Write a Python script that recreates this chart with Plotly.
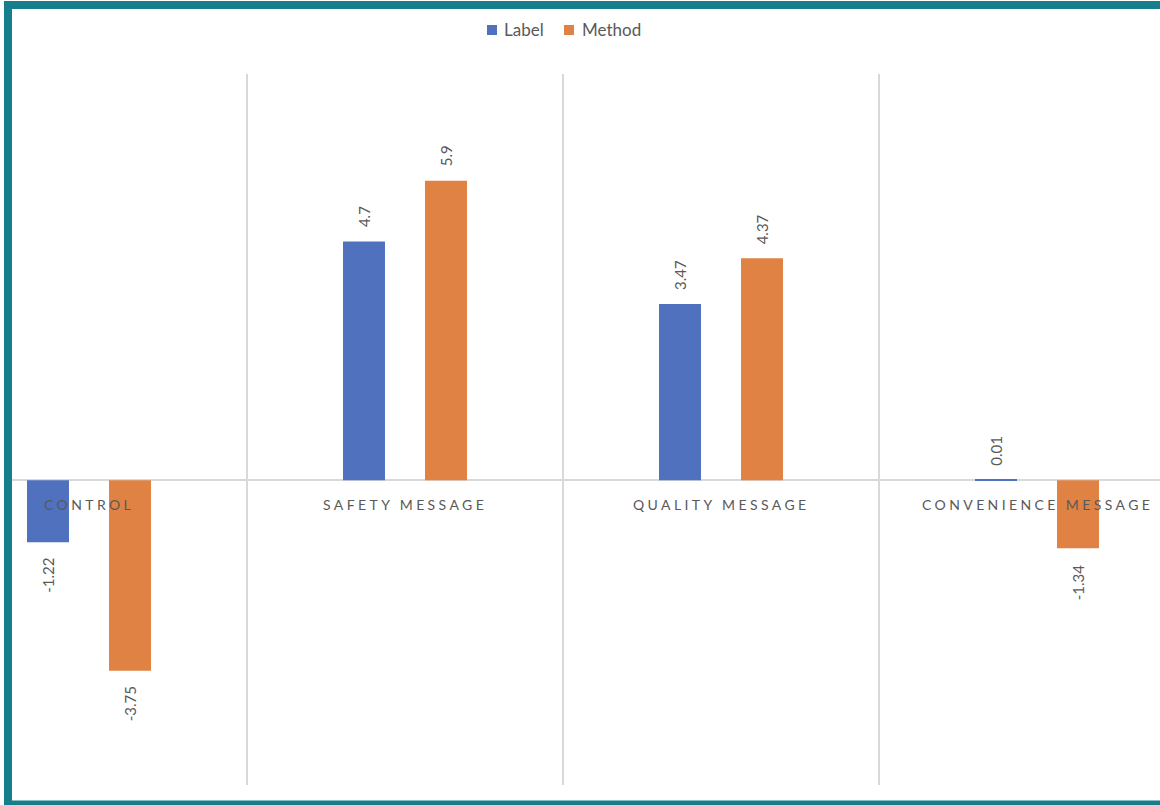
import plotly.graph_objects as go

categories = ["CONTROL", "SAFETY MESSAGE", "QUALITY MESSAGE", "CONVENIENCE MESSAGE"]
label_values = [-1.22, 4.7, 3.47, 0.01]
method_values = [-3.75, 5.9, 4.37, -1.34]
series_names = ["Label", "Method"]
series_colors = ["#4F71BE", "#DF8244"]

W, H = 1160, 805
L, R, T, B = 12, 0, 74, 20
pw = W - L - R
ph = H - T - B

def px(x):
    return (x - L) / pw

def py(y):
    return (H - B - y) / ph

FONT = "Lato, 'Open Sans', sans-serif"
GREY = "#595959"

fig = go.Figure()
for name, vals, col, shift in [(series_names[0], label_values, series_colors[0], -41),
                               (series_names[1], method_values, series_colors[1], 41)]:
    fig.add_trace(go.Bar(
        x=categories, y=vals, name=name,
        marker=dict(color=col, line=dict(width=0)),
        showlegend=False,
    ))
    # data labels
    for c, v in zip(categories, vals):
        fig.add_annotation(
            x=c, y=v, xref="x", yref="y", text=f"{v:g}",
            showarrow=False, textangle=-90, xshift=shift,
            yanchor="bottom" if v >= 0 else "top",
            yshift=12 if v >= 0 else -14,
            font=dict(size=15, color=GREY, family=FONT),
        )

# category labels next to the zero line
for c in categories:
    fig.add_annotation(
        x=c, y=0, xref="x", yref="y",
        text=f'<span style="letter-spacing:3.4px">{c}</span>',
        showarrow=False, yanchor="top", yshift=-14,
        font=dict(size=14, color=GREY, family=FONT),
    )

# custom legend
leg_items = [(487, 502), (564, 580)]
for (sx, tx), name, col in zip(leg_items, series_names, series_colors):
    fig.add_shape(type="rect", xref="paper", yref="paper",
                  x0=px(sx), x1=px(sx + 10), y0=py(35), y1=py(25),
                  fillcolor=col, line=dict(width=0), layer="above")
    fig.add_annotation(x=px(tx), y=py(30), xref="paper", yref="paper",
                       text=name, showarrow=False, xanchor="left", yanchor="middle",
                       font=dict(size=17, color=GREY, family=FONT))

# teal frame
frame = "#177E8C"
fig.add_shape(type="line", xref="paper", yref="paper",
              x0=px(8), x1=px(8), y0=py(5), y1=py(803),
              line=dict(color=frame, width=8), layer="above")
fig.add_shape(type="line", xref="paper", yref="paper",
              x0=px(4), x1=px(1170), y0=py(5), y1=py(5),
              line=dict(color=frame, width=8), layer="above")
fig.add_shape(type="line", xref="paper", yref="paper",
              x0=px(4), x1=px(1170), y0=py(803), y1=py(803),
              line=dict(color=frame, width=5), layer="above")

fig.update_layout(
    width=W, height=H,
    margin=dict(l=L, r=R, t=T, b=B),
    paper_bgcolor="white", plot_bgcolor="white",
    barmode="group", bargap=0.481, bargroupgap=0.488,
    font=dict(family=FONT, color=GREY),
    showlegend=False,
    xaxis=dict(
        type="category", range=[(L - 89) / 316, (W - 89) / 316],
        showgrid=True, gridcolor="#d9d9d9", gridwidth=2,
        tickson="boundaries", ticks="", showticklabels=False,
        showline=False, zeroline=False,
    ),
    yaxis=dict(
        range=[-6, 8], showgrid=False, showticklabels=False,
        zeroline=True, zerolinecolor="#d9d9d9", zerolinewidth=2,
        showline=False, ticks="",
    ),
)

fig.write_html("out.html")
